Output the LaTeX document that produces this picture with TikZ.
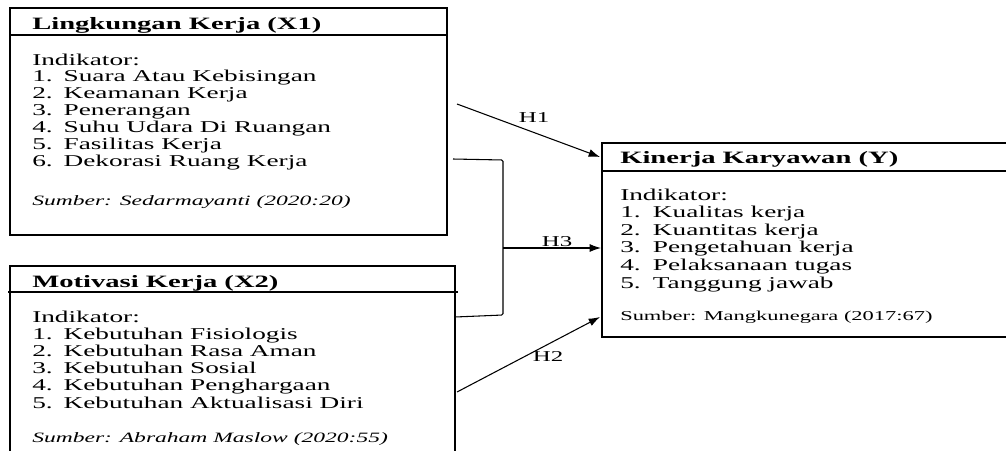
\documentclass[tikz,border=0pt]{standalone}
\usepackage{fontspec}
\setmainfont[FakeStretch=1.65]{Liberation Serif}
\usetikzlibrary{arrows.meta, positioning, fit}

\tikzset{
    kotak/.style={draw, line width=1pt, rectangle, inner sep=0pt},
    judul/.style={font=\bfseries\fontsize{13}{14}\selectfont, anchor=base west, inner sep=0pt},
    isi/.style={font=\fontsize{12.4}{13}\selectfont, anchor=base west, inner sep=0pt},
    sumber/.style={font=\fontsize{10.2}{11}\selectfont, anchor=base west, inner sep=0pt},
    label/.style={font=\fontsize{11.3}{12}\selectfont, inner sep=0pt},
    panah/.style={line width=0.8pt, -{Latex[length=8.5pt,width=6pt]}}
}

\begin{document}
\begin{tikzpicture}[x=0.75pt, y=-0.75pt]
    \clip (0,0) rectangle (1006,450);
    \fill[white] (0,0) rectangle (1006,450);

    % kotak variabel
    \node[kotak, fit={(10,8) (447,235)}] (x1) {};
    \node[kotak, fit={(10,266) (455,470)}] (x2) {};
    \node[kotak, fit={(602,143) (1015,337)}] (y) {};
    \draw[line width=1pt] (x1.west |- 0,35) -- (x1.east |- 0,35);
    \draw[line width=1pt] (8,292) -- (458,292);
    \draw[line width=1pt] (y.west |- 0,171) -- (y.east |- 0,171);

    % Lingkungan Kerja
    \node[judul] (x1judul) at (32,29) {Lingkungan Kerja (X1)};
    \node[isi] (x1ind) at (32,65) {Indikator:};
    \foreach \i/\t in {1/Suara Atau Kebisingan, 2/Keamanan Kerja, 3/Penerangan,
                       4/Suhu Udara Di Ruangan, 5/Fasilitas Kerja, 6/Dekorasi Ruang Kerja}
        \node[isi] (x1i\i) at (32,65+16.9*\i) {\makebox[23.5pt][l]{\i.}\t};
    \node[sumber, font=\itshape\fontsize{10.7}{11}\selectfont] (x1sb) at (32,205) {Sumber: Sedarmayanti (2020:20)};

    % Motivasi Kerja
    \node[judul] (x2judul) at (32,287) {Motivasi Kerja (X2)};
    \node[isi] (x2ind) at (32,322) {Indikator:};
    \foreach \i/\t in {1/Kebutuhan Fisiologis, 2/Kebutuhan Rasa Aman, 3/Kebutuhan Sosial,
                       4/Kebutuhan Penghargaan, 5/Kebutuhan Aktualisasi Diri}
        \node[isi] (x2i\i) at (32,322+17.2*\i) {\makebox[23.5pt][l]{\i.}\t};
    \node[sumber, font=\itshape\fontsize{10.7}{11}\selectfont] (x2sb) at (32,442) {Sumber: Abraham Maslow (2020:55)};

    % Kinerja Karyawan
    \node[judul] (yjudul) at (620,163) {Kinerja Karyawan (Y)};
    \node[isi] (yind) at (620,200) {Indikator:};
    \foreach \i/\t in {1/Kualitas kerja, 2/Kuantitas kerja, 3/Pengetahuan kerja,
                       4/Pelaksanaan tugas, 5/Tanggung jawab}
        \node[isi] (yi\i) at (620,200+17.6*\i) {\makebox[24.5pt][l]{\i.}\t};
    \node[sumber] (ysb) at (620,320) {Sumber: Mangkunegara (2017:67)};

    % hipotesis
    \coordinate (h1a) at (457,104);
    \coordinate (h1b) at (600,157);
    \coordinate (h2a) at (457,392);
    \coordinate (h2b) at (600,317);
    \coordinate (h3a) at (453,159);
    \coordinate (h3b) at (455,317);
    \coordinate (h3m) at (503,248);
    \coordinate (h3c) at (601,248);

    \draw[panah] (h1a) -- (h1b);
    \draw[panah] (h2a) -- (h2b);
    \draw[line width=0.8pt, rounded corners=1pt] (h3a) -- (503,160) -- (503,315) -- (h3b);
    \draw[panah] (h3m) -- (h3c);

    \node[label] (lh1) at (534,118) {H1};
    \node[label] (lh3) at (557,242) {H3};
    \node[label] (lh2) at (548,357) {H2};
\end{tikzpicture}
\end{document}
